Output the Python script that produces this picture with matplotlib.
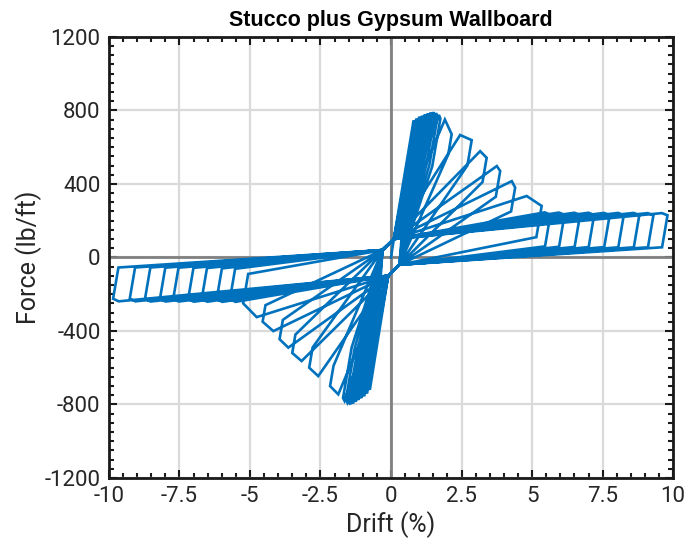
import matplotlib
matplotlib.use("Agg")
import matplotlib.pyplot as plt
from matplotlib.ticker import MultipleLocator

# ---- cycle data: drift (%) and force (lb/ft) at the turning points of each loop ----
# positive excursions
pos_peak_drift = [0.80, 0.90, 1.00, 1.10, 1.20, 1.30, 1.40, 1.50, 1.60, 1.70,
                  1.91, 2.45, 3.16, 3.75, 4.28, 4.81,
                  5.45, 5.95, 6.50, 7.00, 7.55, 8.05, 8.60, 9.10, 9.60]
pos_peak_force = [745, 755, 765, 770, 778, 783, 788, 790, 785, 775,
                  750, 666, 578, 497, 415, 334,
                  245, 244, 243, 243, 242, 242, 242, 241, 241]
pos_max_drift = [0.85, 0.95, 1.05, 1.15, 1.25, 1.35, 1.45, 1.55, 1.65, 1.75,
                 2.15, 2.86, 3.39, 3.87, 4.40, 5.34,
                 5.65, 6.15, 6.70, 7.20, 7.75, 8.25, 8.80, 9.30, 9.80]
pos_max_force = [730, 740, 750, 755, 760, 765, 770, 770, 765, 755,
                 670, 638, 542, 470, 380, 280,
                 232, 232, 231, 231, 230, 230, 230, 229, 229]
pos_unload_force = [470, 480, 490, 495, 500, 505, 505, 505, 500, 495,
                    560, 500, 410, 330, 250, 110,
                    60, 58, 57, 56, 56, 55, 55, 55, 55]

# negative excursions
neg_peak_drift = [-0.75, -0.85, -0.95, -1.05, -1.15, -1.25, -1.35, -1.45, -1.55, -1.65,
                  -1.87, -2.58, -3.17, -3.64, -4.17, -4.76,
                  -5.51, -5.98, -6.51, -6.99, -7.52, -7.99, -8.52, -9.06, -9.65]
neg_peak_force = [-720, -740, -755, -765, -775, -785, -795, -800, -790, -780,
                  -745, -646, -564, -491, -401, -325,
                  -242, -242, -241, -241, -240, -240, -240, -239, -239]
neg_max_drift = [-0.80, -0.90, -1.00, -1.10, -1.20, -1.30, -1.40, -1.50, -1.60, -1.70,
                 -2.16, -2.90, -3.50, -3.95, -4.55, -5.24,
                 -5.71, -6.18, -6.71, -7.19, -7.72, -8.19, -8.72, -9.26, -9.85]
neg_max_force = [-705, -725, -740, -750, -760, -770, -780, -785, -775, -765,
                 -700, -600, -520, -445, -350, -250,
                 -228, -228, -227, -227, -226, -226, -226, -225, -225]
neg_unload_force = [-460, -470, -480, -485, -490, -495, -500, -500, -495, -490,
                    -590, -490, -420, -340, -260, -90,
                    -62, -60, -58, -57, -56, -56, -55, -55, -55]

# pinching points near the origin (drift, force)
pos_reload = (0.10, 100)
pos_return = (0.30, -40)
neg_reload = (-0.10, -100)
neg_return = (-0.30, 40)
unload_stiffness = 900.0  # lb/ft per % drift

x_ticks = [-10, -7.5, -5, -2.5, 0, 2.5, 5, 7.5, 10]
x_tick_labels = ['-10', '-7.5', '-5', '-2.5', '0', '2.5', '5', '7.5', '10']
y_ticks = [-1200, -800, -400, 0, 400, 800, 1200]
y_tick_labels = ['-1200', '-800', '-400', '0', '400', '800', '1200']

xs, ys = [0.0], [0.0]
for i in range(len(pos_peak_drift)):
    # positive half cycle
    xs += [pos_reload[0], pos_peak_drift[i], pos_max_drift[i]]
    ys += [pos_reload[1], pos_peak_force[i], pos_max_force[i]]
    drop = pos_max_force[i] - pos_unload_force[i]
    xs += [pos_max_drift[i] - drop / unload_stiffness, pos_return[0]]
    ys += [pos_unload_force[i], pos_return[1]]
    # negative half cycle
    xs += [neg_reload[0], neg_peak_drift[i], neg_max_drift[i]]
    ys += [neg_reload[1], neg_peak_force[i], neg_max_force[i]]
    drop = neg_unload_force[i] - neg_max_force[i]
    xs += [neg_max_drift[i] + drop / unload_stiffness, neg_return[0]]
    ys += [neg_unload_force[i], neg_return[1]]

plt.rcParams['font.family'] = ['Roboto', 'DejaVu Sans']

fig = plt.figure(figsize=(6.89, 5.5), dpi=100)
ax = fig.add_axes([0.158, 0.131, 0.819, 0.802])

ax.axhline(0, color='#808080', lw=2.0, zorder=1)
ax.axvline(0, color='#808080', lw=2.0, zorder=1)
ax.plot(xs, ys, color='#0072BD', lw=1.9, solid_joinstyle='miter', zorder=3)

ax.set_xlim(-10, 10)
ax.set_ylim(-1200, 1200)
ax.xaxis.set_minor_locator(MultipleLocator(0.5))
ax.yaxis.set_minor_locator(MultipleLocator(50))
ax.set_xticks(x_ticks)
ax.set_xticklabels(x_tick_labels)
ax.set_yticks(y_ticks)
ax.set_yticklabels(y_tick_labels)

ax.grid(True, which='major', color='#dadada', lw=1.6, zorder=0)
ax.set_axisbelow(True)
ax.tick_params(which='both', direction='in', top=True, right=True,
               width=1.5, colors='#1a1a1a', labelsize=16, labelcolor='#262626')
ax.tick_params(which='major', length=6, pad=6)
ax.tick_params(which='minor', length=3.5)
for s in ax.spines.values():
    s.set_linewidth(2.0)
    s.set_color('#1a1a1a')

ax.set_xlabel('Drift (%)', fontsize=18, color='#262626', labelpad=3)
ax.set_ylabel('Force (lb/ft)', fontsize=18, color='#262626', labelpad=2)
ax.set_title('Stucco plus Gypsum Wallboard', fontsize=15.5, fontweight='bold',
             family=['Liberation Sans', 'DejaVu Sans'], pad=8)

fig.savefig('out.png', dpi=100)
